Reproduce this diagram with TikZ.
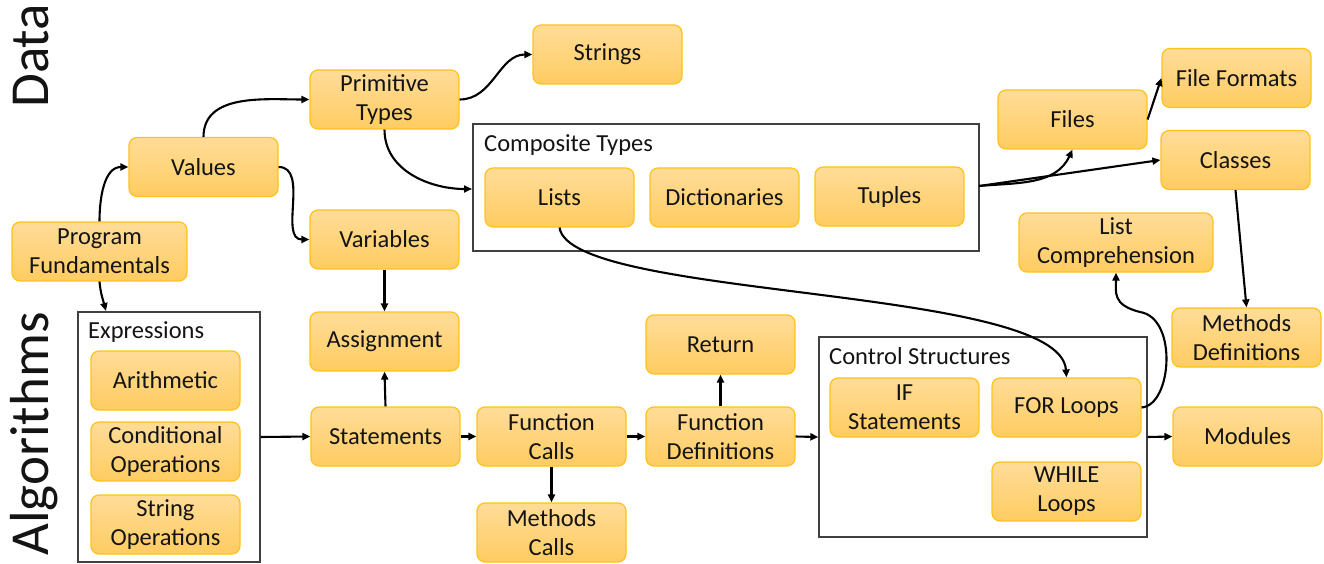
\documentclass[tikz,border=0pt]{standalone}
\usepackage{fontspec}
\setmainfont{Carlito}
\usetikzlibrary{arrows.meta}

\definecolor{boxtop}{HTML}{FFDC98}
\definecolor{boxbot}{HTML}{FFCC60}
\definecolor{boxedge}{HTML}{FFC21A}
\definecolor{framegray}{HTML}{404040}
\definecolor{inkgray}{HTML}{141414}

\newcommand{\labelfont}{\fontsize{24.5}{29}\selectfont}
\newcommand{\sidefont}{\fontsize{55}{60}\selectfont}

\tikzset{
  topic/.style={rounded corners=8pt, draw=boxedge, line width=1.2pt,
    top color=boxtop, bottom color=boxbot,
    minimum width=149pt, minimum height=59pt, inner sep=2pt,
    align=center, font=\labelfont, text=inkgray},
  group/.style={draw=framegray, line width=1.4pt, inner sep=0pt},
  grouptitle/.style={anchor=west, font=\labelfont, text=inkgray, inner sep=0pt},
  side/.style={rotate=90, anchor=base west, font=\sidefont, text=inkgray, inner sep=0pt},
  link/.style={-{Triangle[length=8pt,width=7pt]}, line width=2.1pt, black},
}

\begin{document}
\begin{tikzpicture}[x=1pt, y=-1pt]
\useasboundingbox (0,0) rectangle (1324,564);

% side headings
\node[side] (data) at (48,108) {Data};
\node[side] (algo) at (48,556) {Algorithms};

% group frames
\node[group, minimum width=506pt, minimum height=127pt] (comp) at (726,187.5) {};
\node[grouptitle] (compt) at (484,145) {Composite Types};
\node[group, minimum width=182pt, minimum height=250pt] (expr) at (169,437) {};
\node[grouptitle] (exprt) at (88,332) {Expressions};
\node[group, minimum width=328pt, minimum height=200pt] (ctrl) at (983,437) {};
\node[grouptitle] (ctrlt) at (829,356) {Control Structures};

% data topics
\node[topic, minimum width=175pt] (pf) at (99.5,251.5) {Program\\Fundamentals};
\node[topic] (values) at (203.5,167) {Values};
\node[topic] (prim) at (384.5,99.5) {Primitive\\Types};
\node[topic] (strings) at (607.5,54.5) {Strings};
\node[topic] (vars) at (384.5,239.5) {Variables};
\node[topic] (lists) at (559.5,197.5) {Lists};
\node[topic] (dicts) at (724.5,197.5) {Dictionaries};
\node[topic] (tuples) at (889.5,196.5) {Tuples};
\node[topic] (files) at (1072.5,119.5) {Files};
\node[topic] (ffmt) at (1236.5,78) {File Formats};
\node[topic] (classes) at (1235.5,160) {Classes};
\node[topic, minimum width=194pt] (lc) at (1116,242.5) {List\\Comprehension};
\node[topic] (mdef) at (1246.5,337.5) {Methods\\Definitions};

% algorithm topics
\node[topic] (arith) at (165.5,380.5) {Arithmetic};
\node[topic] (cond) at (165.5,451.5) {Conditional\\Operations};
\node[topic] (strop) at (165.5,524.5) {String\\Operations};
\node[topic] (assign) at (384.5,341.5) {Assignment};
\node[topic] (stmt) at (385.5,436.5) {Statements};
\node[topic] (fcall) at (551.5,436.5) {Function\\Calls};
\node[topic] (mcall) at (551.5,532.5) {Methods\\Calls};
\node[topic] (ret) at (720.5,344.5) {Return};
\node[topic] (fdef) at (720.5,436.5) {Function\\Definitions};
\node[topic] (ifs) at (904.5,407.5) {IF\\Statements};
\node[topic] (forl) at (1066.5,407.5) {FOR Loops};
\node[topic] (whilel) at (1066.5,491.5) {WHILE\\Loops};
\node[topic] (mods) at (1247.5,436.5) {Modules};

% free ends on the frames
\coordinate (exprin) at (106,311);
\coordinate (compin) at (472,189);
\coordinate (compout) at (979,186);
\coordinate (bend) at (1140,312);

% connectors
\draw[link] (pf.north) to[out=90,in=180] (values.west);
\draw[link] (pf.south) to[out=-85,in=105] (exprin);
\draw[link] (values.north) to[out=90,in=180] (prim.west);
\draw[link] (values.east) to[out=0,in=180] (vars.west);
\draw[link] (prim.east) to[out=0,in=180] (strings.west);
\draw[link] (prim.south) to[out=-90,in=180] (compin);
\draw[link] (vars.south) -- (assign.north);
\draw[link] (compout) to[out=5,in=-115] (files.south);
\draw[link] (compout) -- (classes.west);
\draw[link] (files.east) -- (ffmt.west);
\draw[link] (classes.south) -- (mdef.north);
\draw[link] (lists.south) .. controls (570,300) and (1060,285) .. (forl.north);
\draw[link] (forl.east) .. controls (1172,405) and (1178,318) .. (bend)
  .. controls (1112,305) and (1116,292) .. (lc.south);

\draw[link] (expr.east) -- (stmt.west);
\draw[link] (stmt.north) -- (assign.south);
\draw[link] (stmt.east) -- (fcall.west);
\draw[link] (fcall.east) -- (fdef.west);
\draw[link] (fcall.south) -- (mcall.north);
\draw[link] (fdef.north) -- (ret.south);
\draw[link] (fdef.east) -- (ctrl.west);
\draw[link] (ctrl.east) -- (mods.west);
\end{tikzpicture}
\end{document}
